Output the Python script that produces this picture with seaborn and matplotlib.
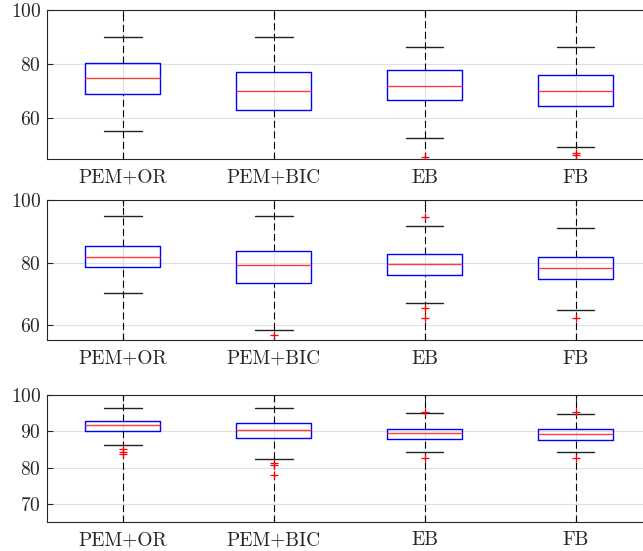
import matplotlib
matplotlib.use("Agg")
import matplotlib.pyplot as plt
import seaborn as sns

# Method names along the x axis
methods = ["PEM+OR", "PEM+BIC", "EB", "FB"]

# Panel 1 box statistics
p1_whislo = [55.3, 40.0, 52.7, 49.5]
p1_q1 = [68.9, 63.3, 66.8, 64.6]
p1_med = [75.0, 70.2, 72.0, 70.2]
p1_q3 = [80.4, 77.3, 77.9, 75.9]
p1_whishi = [90.0, 90.0, 86.4, 86.4]
p1_fliers = [[], [], [45.6], [47.3, 46.3]]

# Panel 2 box statistics
p2_whislo = [70.1, 58.2, 66.9, 64.9]
p2_q1 = [78.6, 73.4, 76.0, 74.7]
p2_med = [81.7, 79.3, 79.6, 78.3]
p2_q3 = [85.2, 83.6, 82.7, 81.8]
p2_whishi = [95.1, 95.1, 91.7, 91.1]
p2_fliers = [[], [56.7], [94.6, 65.3, 62.1], [62.1]]

# Panel 3 box statistics
p3_whislo = [86.2, 82.3, 84.4, 84.4]
p3_q1 = [90.0, 88.2, 87.9, 87.6]
p3_med = [91.7, 90.3, 89.6, 89.3]
p3_q3 = [92.9, 92.2, 90.8, 90.7]
p3_whishi = [96.4, 96.4, 95.1, 94.9]
p3_fliers = [[85.0, 84.4, 83.7], [81.2, 80.7, 77.9], [95.4, 82.7], [95.5, 82.7]]

panels = [
    (p1_whislo, p1_q1, p1_med, p1_q3, p1_whishi, p1_fliers, (45, 100), [60, 80, 100]),
    (p2_whislo, p2_q1, p2_med, p2_q3, p2_whishi, p2_fliers, (55, 100), [60, 80, 100]),
    (p3_whislo, p3_q1, p3_med, p3_q3, p3_whishi, p3_fliers, (65, 100), [70, 80, 90, 100]),
]

sns.set_theme(style="whitegrid")
plt.rcParams["font.family"] = ["cmr10", "DejaVu Serif"]
plt.rcParams["axes.formatter.use_mathtext"] = True
plt.rcParams["lines.scale_dashes"] = False

W, H = 643, 551
fig = plt.figure(figsize=(W / 100, H / 100), dpi=100)
fig.patch.set_facecolor("white")

# axes rectangles in pixels: left, top, right, bottom
rects = [(47.3, 10.3, 651, 159.0), (47.3, 200.3, 651, 340.3), (47.3, 395.3, 651, 521.7)]

positions = [1, 2, 3, 4]
dash = (0, (5.0, 2.6))

for (wlo, q1, med, q3, whi, fl, ylim, yticks), (l, t, r, b) in zip(panels, rects):
    ax = fig.add_axes([l / W, 1 - b / H, (r - l) / W, (b - t) / H])
    stats = []
    for i, name in enumerate(methods):
        stats.append(dict(label=name, whislo=wlo[i], q1=q1[i], med=med[i],
                          q3=q3[i], whishi=whi[i], fliers=fl[i]))
    ax.bxp(stats, positions=positions, widths=0.5, showfliers=True,
           boxprops=dict(color="#0000ff", linewidth=1.0),
           medianprops=dict(color="#ff3b3b", linewidth=1.0),
           whiskerprops=dict(color="black", linewidth=0.0),
           capprops=dict(color="#222222", linewidth=1.0),
           capwidths=0.25,
           flierprops=dict(marker="+", markeredgecolor="#ff0000", markersize=6,
                           markeredgewidth=0.9, linestyle="none"),
           manage_ticks=False, zorder=3)
    ax.set_ylim(*ylim)
    ax.set_xlim(0.5, 4.5)
    # dashed whisker lines running from the box edges out to the axis limits
    ax.vlines(positions, [ylim[0]] * 4, q1, colors="black", linewidth=0.8,
              linestyles=[dash], zorder=2)
    ax.vlines(positions, q3, [ylim[1]] * 4, colors="black", linewidth=0.8,
              linestyles=[dash], zorder=2)
    ax.set_xticks(positions)
    ax.set_xticklabels(methods)
    ax.set_yticks(yticks)
    ax.set_axisbelow(True)
    ax.grid(True, color="#e0e0e0", linewidth=0.8)
    ax.set_facecolor("white")
    for side in ["left", "top", "bottom", "right"]:
        ax.spines[side].set_color("#262626")
        ax.spines[side].set_linewidth(0.8)
        ax.spines[side].set_visible(True)
    ax.tick_params(axis="both", direction="in", length=4.5, width=0.8,
                   color="#262626", labelsize=14, labelcolor="#262626",
                   left=True, bottom=True, top=True, right=True)
    ax.tick_params(axis="y", pad=4.5)
    ax.tick_params(axis="x", pad=7)

fig.savefig("out.png", dpi=100, facecolor="white")
